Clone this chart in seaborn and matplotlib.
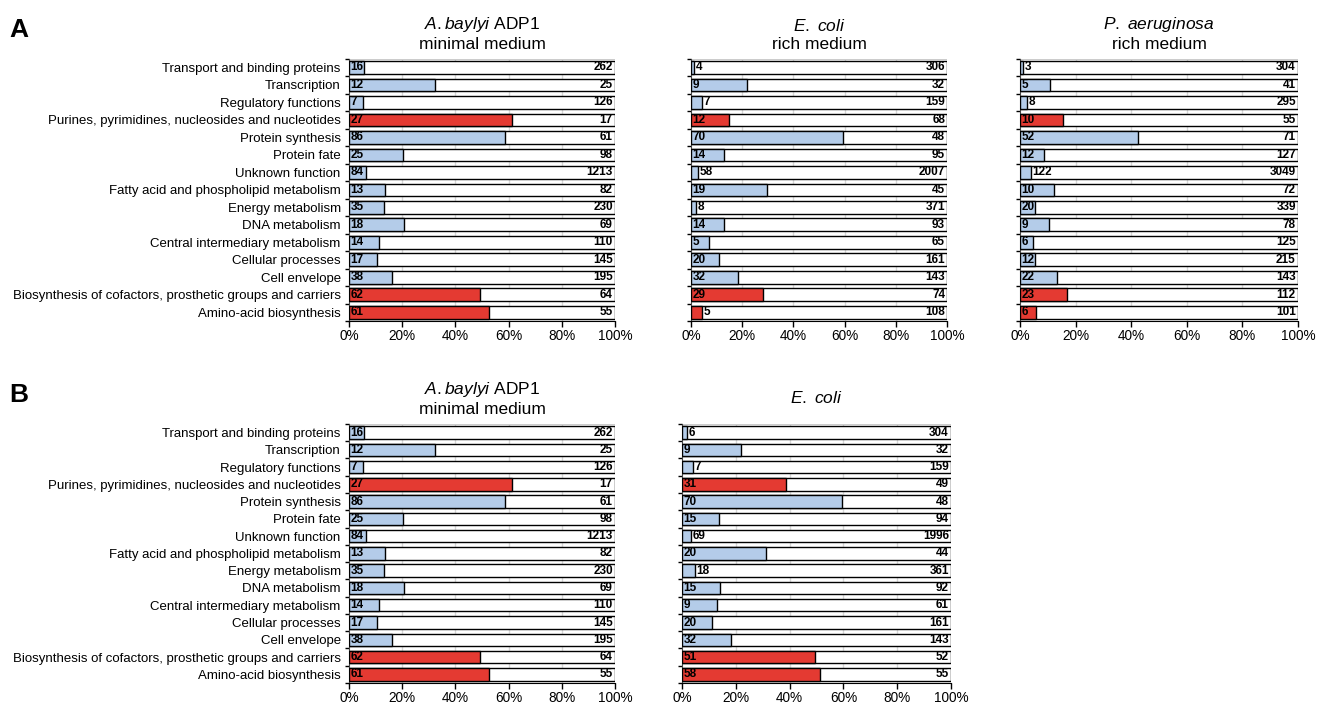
import matplotlib
matplotlib.use("Agg")
import matplotlib.pyplot as plt
import seaborn as sns
import pandas as pd
from matplotlib.ticker import PercentFormatter, FixedLocator

# categorias (de arriba a abajo)
categories = [
    "Transport and binding proteins",
    "Transcription",
    "Regulatory functions",
    "Purines, pyrimidines, nucleosides and nucleotides",
    "Protein synthesis",
    "Protein fate",
    "Unknown function",
    "Fatty acid and phospholipid metabolism",
    "Energy metabolism",
    "DNA metabolism",
    "Central intermediary metabolism",
    "Cellular processes",
    "Cell envelope",
    "Biosynthesis of cofactors, prosthetic groups and carriers",
    "Amino-acid biosynthesis",
]
highlighted = [
    "Purines, pyrimidines, nucleosides and nucleotides",
    "Biosynthesis of cofactors, prosthetic groups and carriers",
    "Amino-acid biosynthesis",
]

# esenciales / no esenciales por panel
adp1_ess = [16, 12, 7, 27, 86, 25, 84, 13, 35, 18, 14, 17, 38, 62, 61]
adp1_non = [262, 25, 126, 17, 61, 98, 1213, 82, 230, 69, 110, 145, 195, 64, 55]
ecoli_rich_ess = [4, 9, 7, 12, 70, 14, 58, 19, 8, 14, 5, 20, 32, 29, 5]
ecoli_rich_non = [306, 32, 159, 68, 48, 95, 2007, 45, 371, 93, 65, 161, 143, 74, 108]
paer_rich_ess = [3, 5, 8, 10, 52, 12, 122, 10, 20, 9, 6, 12, 22, 23, 6]
paer_rich_non = [304, 41, 295, 55, 71, 127, 3049, 72, 339, 78, 125, 215, 143, 112, 101]
ecoli_b_ess = [6, 9, 7, 31, 70, 15, 69, 20, 18, 15, 9, 20, 32, 51, 58]
ecoli_b_non = [304, 32, 159, 49, 48, 94, 1996, 44, 361, 92, 61, 161, 143, 52, 55]

BLUE = "#b4cce9"
RED = "#e43a32"

sns.set_style("white")
plt.rcParams["font.family"] = ["Liberation Sans", "DejaVu Sans"]
plt.rcParams["mathtext.fontset"] = "custom"
plt.rcParams["mathtext.rm"] = "Liberation Sans"
plt.rcParams["mathtext.it"] = "Liberation Sans:italic"
plt.rcParams["text.color"] = "black"
plt.rcParams["xtick.color"] = "black"
plt.rcParams["ytick.color"] = "black"
plt.rcParams["axes.labelcolor"] = "black"

fig = plt.figure(figsize=(13.24, 7.06), dpi=100)


def panel(rect, ess, non, title, show_labels, title_pad=7):
    ax = fig.add_axes(rect)
    df = pd.DataFrame({"category": categories, "ess": ess, "non": non})
    df["frac"] = df["ess"] / (df["ess"] + df["non"])
    df["kind"] = ["red" if c in highlighted else "blue" for c in df["category"]]
    df["total"] = 1.0

    ax.grid(False)
    for g in [0.2, 0.4, 0.6, 0.8]:
        ax.axvline(g, color="#d8d8d8", lw=1, zorder=0)

    sns.barplot(data=df, x="total", y="category", order=categories, color="white",
                saturation=1, edgecolor="black", linewidth=1, width=0.72,
                orient="h", ax=ax, zorder=2)
    sns.barplot(data=df, x="frac", y="category", order=categories, hue="kind",
                palette={"red": RED, "blue": BLUE}, dodge=False, legend=False,
                saturation=1, edgecolor="black", linewidth=1, width=0.72,
                orient="h", ax=ax, zorder=3)

    for i, row in df.iterrows():
        s = str(row["ess"])
        limit = max(0.045, 0.025 * len(s))
        if row["frac"] < limit:
            ax.text(row["frac"] + 0.006, i, s, ha="left", va="center",
                    fontsize=8.5, fontweight="bold", zorder=5)
        else:
            ax.text(0.006, i, s, ha="left", va="center",
                    fontsize=8.5, fontweight="bold", zorder=5)
        ax.text(0.992, i, str(row["non"]), ha="right", va="center",
                fontsize=8.5, fontweight="bold", zorder=5)

    ax.set_xlim(0, 1)
    ax.set_ylim(14.5, -0.5)
    ax.xaxis.set_major_locator(FixedLocator([0, 0.2, 0.4, 0.6, 0.8, 1.0]))
    ax.xaxis.set_major_formatter(PercentFormatter(1.0, decimals=0))
    ax.tick_params(axis="x", direction="out", length=4, width=1, color="black",
                   labelsize=9.8, pad=2, bottom=True)
    ax.set_xlabel("")
    ax.set_ylabel("")
    ax.yaxis.set_minor_locator(FixedLocator([k + 0.5 for k in range(-1, 15)]))
    ax.tick_params(axis="y", which="major", length=0, labelsize=9.5, pad=6)
    ax.tick_params(axis="y", which="minor", length=3, width=1, color="black", left=True)
    if not show_labels:
        ax.set_yticklabels([])
    for side in ["top", "right"]:
        ax.spines[side].set_visible(False)
    ax.spines["left"].set_color("#444444")
    ax.spines["bottom"].set_color("black")
    ax.axhline(-0.5, color="#cccccc", lw=1.5, zorder=1)

    ax.set_title(title, fontsize=12.5, linespacing=1.25, pad=title_pad)
    return ax


panel([0.2636, 0.5453, 0.2009, 0.3717], adp1_ess, adp1_non,
      r"$\mathit{A.baylyi}$ ADP1" + "\nminimal medium", True)
panel([0.5219, 0.5453, 0.1934, 0.3717], ecoli_rich_ess, ecoli_rich_non,
      r"$\mathit{E.\ coli}$" + "\nrich medium", False)
panel([0.7704, 0.5453, 0.2100, 0.3717], paer_rich_ess, paer_rich_non,
      r"$\mathit{P.\ aeruginosa}$" + "\nrich medium", False)
panel([0.2636, 0.0326, 0.2009, 0.3670], adp1_ess, adp1_non,
      r"$\mathit{A.baylyi}$ ADP1" + "\nminimal medium", True)
panel([0.5151, 0.0326, 0.2032, 0.3670], ecoli_b_ess, ecoli_b_non,
      r"$\mathit{E.\ coli}$", False, title_pad=15)

fig.text(0.007, 0.975, "A", fontsize=19, fontweight="bold", va="top")
fig.text(0.007, 0.458, "B", fontsize=19, fontweight="bold", va="top")

plt.savefig("out.png", dpi=100)
plt.close()
